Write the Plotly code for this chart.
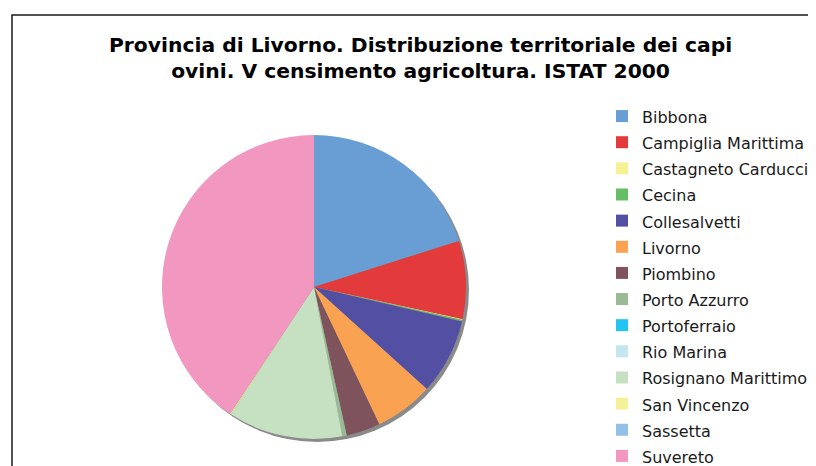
import plotly.graph_objects as go

# comuni and share of sheep heads (%)
comuni = ["Bibbona", "Campiglia Marittima", "Castagneto Carducci", "Cecina",
          "Collesalvetti", "Livorno", "Piombino", "Porto Azzurro", "Portoferraio",
          "Rio Marina", "Rosignano Marittimo", "San Vincenzo", "Sassetta", "Suvereto"]
quote = [20.1, 8.3, 0.1, 0.15, 8.05, 6.25, 3.6, 0.47, 0.0, 0.0, 12.2, 0.1, 0.0, 40.7]
colori = ["#689ED3", "#E33B3B", "#F6F193", "#66BE64", "#5350A3", "#F9A251",
          "#7F535C", "#99BA94", "#22C4F2", "#C4E6EE", "#C5E1C2", "#F6F199",
          "#93C0E6", "#F297C0"]

W, H = 816, 466
OFF = 8  # page body margin, everything below is in page pixels
cx, cy, r = 314 - OFF, 287 - OFF, 152


def px(x):
    return (x - OFF) / W


def py(y):
    return 1 - (y - OFF) / H


# legend row height follows legend font size, so keep that larger and shrink the label text
etichette = ["<span style='font-size:16px'>%s</span>" % c for c in comuni]

fig = go.Figure()

# grey drop shadow behind the pie
fig.add_trace(go.Pie(values=[1], labels=["shadow"], marker=dict(colors=["#8A8A8A"]),
                     textinfo="none", hoverinfo="skip", showlegend=False, sort=False,
                     domain=dict(x=[(cx - r + 3) / W, (cx + r + 3) / W],
                                 y=[(H - cy - r - 3) / H, (H - cy + r - 3) / H])))

fig.add_trace(go.Pie(labels=etichette, values=quote, sort=False, direction="clockwise",
                     rotation=0, textinfo="none",
                     marker=dict(colors=colori, line=dict(width=0)),
                     domain=dict(x=[(cx - r) / W, (cx + r) / W],
                                 y=[(H - cy - r) / H, (H - cy + r) / H])))

fig.update_layout(
    width=W, height=H,
    margin=dict(l=0, r=0, t=0, b=0, autoexpand=False),
    paper_bgcolor="white",
    font=dict(family="DejaVu Sans", color="#1a1a1a"),
    legend=dict(xref="container", yref="container", maxheight=600,
                x=px(602), xanchor="left", y=py(98), yanchor="top",
                font=dict(size=17.8, color="#1a1a1a"), bgcolor="rgba(0,0,0,0)",
                traceorder="normal"),
    annotations=[dict(text="<b>Provincia di Livorno. Distribuzione territoriale dei capi<br>"
                           "ovini. V censimento agricoltura. ISTAT 2000</b>",
                      xref="paper", yref="paper", x=px(420), y=py(31),
                      xanchor="center", yanchor="top", showarrow=False,
                      font=dict(size=20.3, color="#000000"))],
    shapes=[dict(type="rect", xref="paper", yref="paper",
                 x0=px(12), x1=1.02, y0=-0.02, y1=py(15),
                 line=dict(color="#1a1a1a", width=1.5))],
)

fig.write_html("out.html")
